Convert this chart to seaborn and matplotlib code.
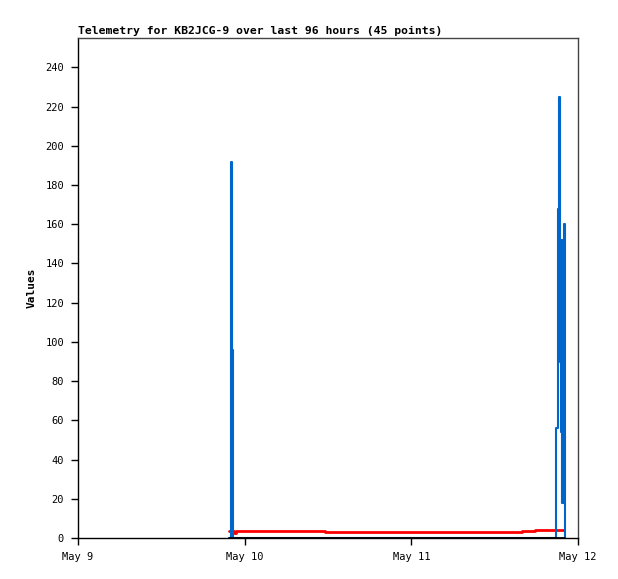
import numpy as np
import pandas as pd
import seaborn as sns
import matplotlib.pyplot as plt

# hours after May 9 00:00 and the values
blue_hours = [21.7, 22.0, 22.12, 22.3, 68.9, 69.05, 69.2, 69.35, 69.45, 69.55, 69.65, 69.75, 69.93, 70.1]
blue_vals = [0, 192, 96, 0, 56, 168, 225, 126, 90, 54, 152, 18, 160, 0]

red_hours = [21.7, 22.4, 22.7, 27.45, 35.5, 64.0, 65.8, 70.05]
red_vals = [3.8, 2.8, 3.8, 3.4, 2.9, 3.4, 3.9, 3.9]

black_hours = [21.7, 70.05]
black_vals = [0, 0]

tick_labels = ['May 9', 'May 10', 'May 11', 'May 12']
y_ticks = list(range(0, 260, 20))

start = pd.Timestamp('2024-05-09')


def to_df(hours, vals):
    return pd.DataFrame({'time': start + pd.to_timedelta(hours, unit='h'), 'value': vals})


sns.set_style('ticks')
plt.rcParams['font.family'] = ['DejaVu Sans Mono', 'DejaVu Sans']
plt.rcParams['text.color'] = 'black'
plt.rcParams['axes.labelcolor'] = 'black'
plt.rcParams['xtick.color'] = 'black'
plt.rcParams['ytick.color'] = 'black'

fig = plt.figure(figsize=(6.18, 5.79), dpi=100)
ax = fig.add_axes([78 / 618, 41 / 579, 500 / 618, 500 / 579])

sns.lineplot(data=to_df(red_hours, red_vals), x='time', y='value', color='#ff0000',
             linewidth=2, drawstyle='steps-post', ax=ax)
sns.lineplot(data=to_df(blue_hours, blue_vals), x='time', y='value', color='#0066cc',
             linewidth=1.5, drawstyle='steps-post', ax=ax)
sns.lineplot(data=to_df(black_hours, black_vals), x='time', y='value', color='black',
             linewidth=2, drawstyle='steps-post', ax=ax)

ticks = [start + pd.Timedelta(days=i) for i in range(4)]
ax.set_xlim(ticks[0], ticks[-1])
ax.set_xticks(ticks)
ax.set_xticklabels(tick_labels)
ax.set_ylim(0, 255)
ax.set_yticks(y_ticks)

ax.tick_params(axis='both', labelsize=7.5, length=5, width=1, color='black', direction='out')
ax.tick_params(axis='x', pad=5)
ax.tick_params(axis='y', pad=5)

for side in ['left', 'bottom']:
    ax.spines[side].set_color('black')
    ax.spines[side].set_linewidth(1)
for side in ['top', 'right']:
    ax.spines[side].set_visible(True)
    ax.spines[side].set_color('#444444')
    ax.spines[side].set_linewidth(1)

ax.set_xlabel('')
ax.set_ylabel('Values', fontsize=8, fontweight='bold', labelpad=6)
ax.set_title('Telemetry for KB2JCG-9 over last 96 hours (45 points)',
             loc='left', fontsize=8.2, fontweight='bold', pad=3)

fig.savefig('out.png', dpi=100)
